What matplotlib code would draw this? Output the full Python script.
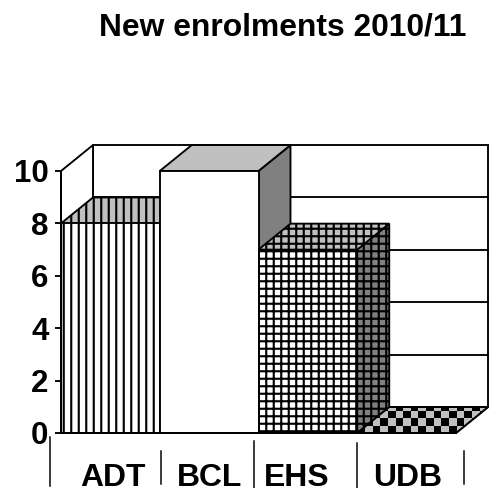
import numpy as np
import matplotlib
matplotlib.use('Agg')
import matplotlib.pyplot as plt
from matplotlib.colors import ListedColormap
from matplotlib.patches import Polygon

categories = ['ADT', 'BCL', 'EHS', 'UDB']
values = [8, 10, 7, 0]
yticks = [0, 2, 4, 6, 8, 10]
hatches = ['||', '', '++', '']
label_pos = [0.53, 1.5, 2.39, 3.51]

# separators under the category labels: x, top, bottom
sep_x = [-0.11, 1.01, 1.95, 3.0, 4.08]
sep_top = [-0.15, -0.69, -0.31, -0.38, -0.69]
sep_bottom = [-2.02, -1.95, -2.1, -2.1, -1.95]

# depth of the 3d box in data units
dx = 0.324
dy = 0.99

light = '#c0c0c0'
dark = '#808080'
lw = 1.5

plt.rcParams['font.family'] = ['Liberation Sans', 'DejaVu Sans']
plt.rcParams['font.weight'] = 'bold'
plt.rcParams['hatch.linewidth'] = 1.7

dpi = 90
fig = plt.figure(figsize=(489/dpi, 488/dpi), dpi=dpi)
ax = fig.add_axes([61/489, 55/488, 395/489, 262/488])
ax.set_xlim(0, 4)
ax.set_ylim(0, 10)
for s in ['top', 'right']:
    ax.spines[s].set_visible(False)
for s in ['left', 'bottom']:
    ax.spines[s].set_linewidth(lw)
    ax.spines[s].set_zorder(10)


def face(pts, fc, hatch='', z=3):
    p = Polygon(pts, closed=True, facecolor=fc, edgecolor='k', linewidth=lw,
                hatch=hatch, clip_on=False, zorder=z, joinstyle='miter')
    ax.add_patch(p)
    return p


# walls and floor
face([(dx, dy), (4+dx, dy), (4+dx, 10+dy), (dx, 10+dy)], 'white', z=1)
face([(0, 0), (dx, dy), (dx, 10+dy), (0, 10)], 'white', z=1)
floor = face([(0, 0), (4, 0), (4+dx, dy), (dx, dy)], 'white', z=1)
for v in yticks[1:-1]:
    ax.plot([dx, 4+dx], [v+dy, v+dy], color='k', lw=lw, clip_on=False, zorder=1.5)

# bars are drawn back to front, left to right
for i, v in enumerate(values):
    if v == 0:
        continue
    h = hatches[i]
    z = 3 + i
    face([(i+1, 0), (i+1+dx, dy), (i+1+dx, v+dy), (i+1, v)], dark, h, z)
    face([(i, v), (i+1, v), (i+1+dx, v+dy), (i+dx, v+dy)], light, h, z)
    face([(i, 0), (i+1, 0), (i+1, v), (i, v)], 'white', h, z)

# checkered top of the empty bar
i = values.index(0)
top = face([(i, 0), (i+1, 0), (i+1+dx, dy), (i+dx, dy)], 'none', z=8)
xe = i + np.arange(0, 19) * 0.0775
ye = np.arange(0, 5) * 0.286
cells = np.indices((len(ye)-1, len(xe)-1)).sum(axis=0) % 2
mesh = ax.pcolormesh(xe, ye, cells, cmap=ListedColormap(['k', light]), zorder=7)
mesh.set_clip_box(None)
mesh.set_clip_path(top)

ax.set_yticks(yticks)
ax.tick_params(axis='y', length=5, width=lw, pad=5, labelsize=25)
ax.set_xticks(label_pos)
ax.set_xticklabels(categories)
ax.tick_params(axis='x', length=0, pad=24.2, labelsize=25.5)

for x, a, b in zip(sep_x, sep_top, sep_bottom):
    ax.plot([x, x], [a, b], color='k', lw=1.2, clip_on=False)

fig.text(283/489, 1-28/488, 'New enrolments 2010/11', ha='center', va='center', fontsize=25.4,
         fontweight='bold')

fig.savefig('out.png', dpi=dpi)
